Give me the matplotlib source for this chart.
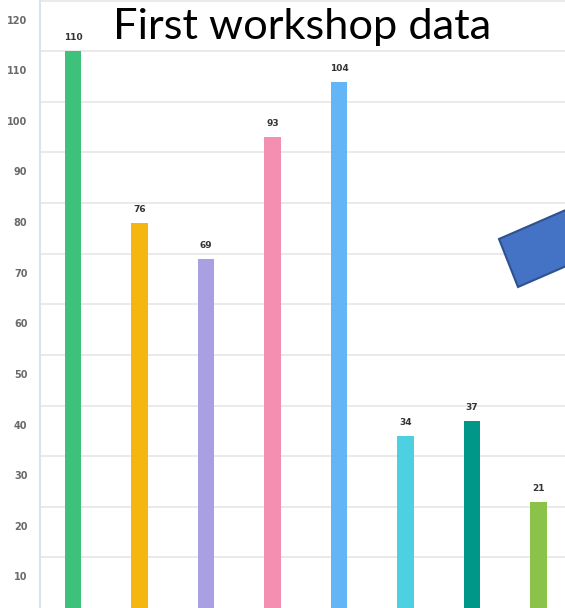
import matplotlib
matplotlib.use('Agg')
import matplotlib.pyplot as plt
import matplotlib.transforms as mtransforms
from matplotlib.patches import Polygon

# --- Data ---
categories = ['A', 'B', 'C', 'D', 'E', 'F', 'G', 'H']
values = [110, 76, 69, 93, 104, 34, 37, 21]
bar_colors = ['#3EC27B', '#F4B60F', '#A99FE3', '#F48FB1',
              '#64B5F6', '#4DD0E1', '#009688', '#8BC34A']
y_ticks = [10, 20, 30, 40, 50, 60, 70, 80, 90, 100, 110, 120]
title_text = 'First workshop data'

# --- Figure ---
fig = plt.figure(figsize=(5.65, 6.08), dpi=100)
ax = fig.add_axes([40 / 565, 0, 525 / 565, 1])

x = list(range(len(categories)))
ax.bar(x, values, width=0.25, color=bar_colors, zorder=3)

for xi, v in zip(x, values):
    ax.annotate(str(v), (xi, v), xytext=(0, 9), textcoords='offset pixels',
                ha='center', va='bottom', fontsize=6.5, fontweight='bold',
                color='#333333', zorder=4)

ax.set_xlim(-0.496, 7.40)
ax.set_ylim(0, 120.1)
ax.set_xticks([])
ax.set_yticks(y_ticks)
ax.set_yticklabels([str(t) for t in y_ticks], fontsize=7, color='#6A6A6A',
                   fontweight='bold')
ax.tick_params(axis='y', length=0, pad=9)

# tick labels sit a bit under their gridline in the screenshot
offset = mtransforms.ScaledTranslation(0, -0.19, fig.dpi_scale_trans)
for lbl in ax.get_yticklabels():
    lbl.set_transform(lbl.get_transform() + offset)

ax.grid(axis='y', color='#E6E6E6', linewidth=1.2, zorder=0)
for side in ['top', 'right', 'bottom']:
    ax.spines[side].set_visible(False)
ax.spines['left'].set_color('#DCE3EE')
ax.spines['left'].set_linewidth(1.5)

# --- Title pasted over the chart ---
title = fig.text(113 / 565, 1 - 39 / 608, title_text, fontsize=28,
                 family=['Lato', 'DejaVu Sans'], color='black',
                 ha='left', va='baseline', zorder=10)
fig.canvas.draw()
w = title.get_window_extent().width
title.set_fontsize(28 * 379 / w)

# --- Blue arrow shape coming in from the right ---
shape = [(499, 239), (518, 287), (640, 234), (621, 186)]
poly = Polygon([(px / 565, 1 - py / 608) for px, py in shape], closed=True,
               transform=fig.transFigure, facecolor='#4472C4',
               edgecolor='#2F528F', linewidth=1.5, zorder=10)
fig.patches.append(poly)

fig.savefig('out.png', dpi=100)
